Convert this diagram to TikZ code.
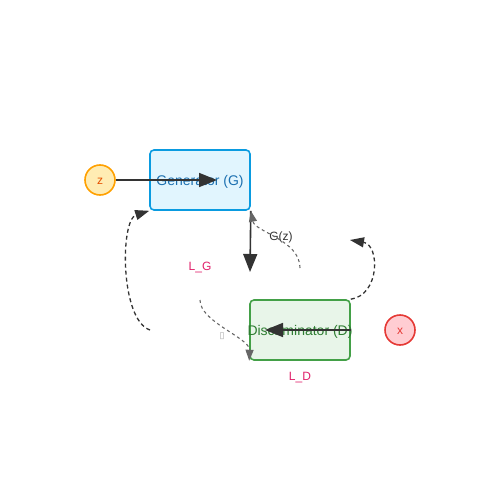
\documentclass[tikz,border=0pt]{standalone}
\usepackage{fontspec}
\setmainfont{Liberation Sans}
\newfontfamily\symfont{DejaVu Sans}
\usetikzlibrary{arrows.meta}
\definecolor{gfill}{HTML}{E1F5FE}
\definecolor{gdraw}{HTML}{0A9BE0}
\definecolor{gtext}{HTML}{1A6FB0}
\definecolor{dfill}{HTML}{E8F5E9}
\definecolor{ddraw}{HTML}{43A047}
\definecolor{dtext}{HTML}{2E7D32}
\definecolor{zfill}{HTML}{FFECB3}
\definecolor{zdraw}{HTML}{FFA000}
\definecolor{ztext}{HTML}{E65100}
\definecolor{xfill}{HTML}{FFCDD2}
\definecolor{xdraw}{HTML}{E53935}
\definecolor{losscol}{HTML}{E0206A}
\definecolor{dark}{HTML}{333333}
\definecolor{midgray}{HTML}{666666}
\tikzset{
  boxnode/.style={rounded corners=4pt, line width=1.6pt, minimum width=100pt, minimum height=60pt, inner sep=0pt},
  boxtext/.style={inner sep=0pt, anchor=base, font=\fontsize{14}{16}\selectfont},
  circnode/.style={circle, line width=1.6pt, minimum size=30pt, inner sep=0pt},
  circtext/.style={inner sep=0pt, anchor=base, font=\fontsize{12}{14}\selectfont},
  mainarrow/.style={dark, line width=1.6pt, -{Triangle[length=18pt,width=14pt]}},
  darkdash/.style={dark, line width=1.3pt, dash pattern=on 4pt off 3pt, -{Triangle[length=14pt,width=10pt]}},
  graydash/.style={midgray, line width=1.1pt, dash pattern=on 3pt off 3pt, -{Triangle[length=11pt,width=8pt]}},
  lbl/.style={font=\fontsize{12}{14}\selectfont, inner sep=0pt, anchor=base},
}
\begin{document}
\begin{tikzpicture}[x=1pt,y=-1pt]
\useasboundingbox (0,0) rectangle (500,500);
\node[boxnode, draw=gdraw, fill=gfill] (G) at (200,180) {};
\node[boxtext, text=gtext] (Gtext) at (200,185) {Generator (G)};
\node[boxnode, draw=ddraw, fill=dfill] (D) at (300,330) {};
\node[boxtext, text=dtext] (Dtext) at (300,335) {Discriminator (D)};
\node[circnode, draw=zdraw, fill=zfill] (z) at (100,180) {};
\node[circtext, text=ztext] (ztext) at (100,184) {z};
\node[circnode, draw=xdraw, fill=xfill] (x) at (400,330) {};
\node[circtext, text=xdraw] (xtext) at (400,334) {x};
\coordinate (zend) at (217,180);
\coordinate (xend) at (265,330);
\coordinate (gdown) at (250,272);
\coordinate (lgstart) at (150,330);
\coordinate (ldend) at (350,240);
\coordinate (gzstart) at (300,268);
\coordinate (lgs) at (200,300);
\node[lbl, text=losscol] (LG) at (200,270) {L\_G};
\node[lbl, text=losscol] (LD) at (300,380) {L\_D};
\node[lbl, text=dark] (Gz) at (281,240) {G(z)};
\node[font=\symfont\fontsize{9}{10}\selectfont, text=gray!70, inner sep=0pt] (tofu) at (222,336) {▯};
\draw[mainarrow] (z.east) -- (zend);
\draw[mainarrow] (D.east) -- (xend);
\draw[mainarrow] (G.south east) -- (gdown);
\draw[darkdash] (lgstart) .. controls (120,320) and (120,220) .. (G.south west);
\draw[darkdash] (D.north east) .. controls (380,295) and (380,245) .. (ldend);
\draw[graydash] (gzstart) .. controls (300,240) and (255,232) .. (G.south east);
\draw[graydash] (lgs) .. controls (200,322) and (250,338) .. (D.south west);
\end{tikzpicture}
\end{document}
